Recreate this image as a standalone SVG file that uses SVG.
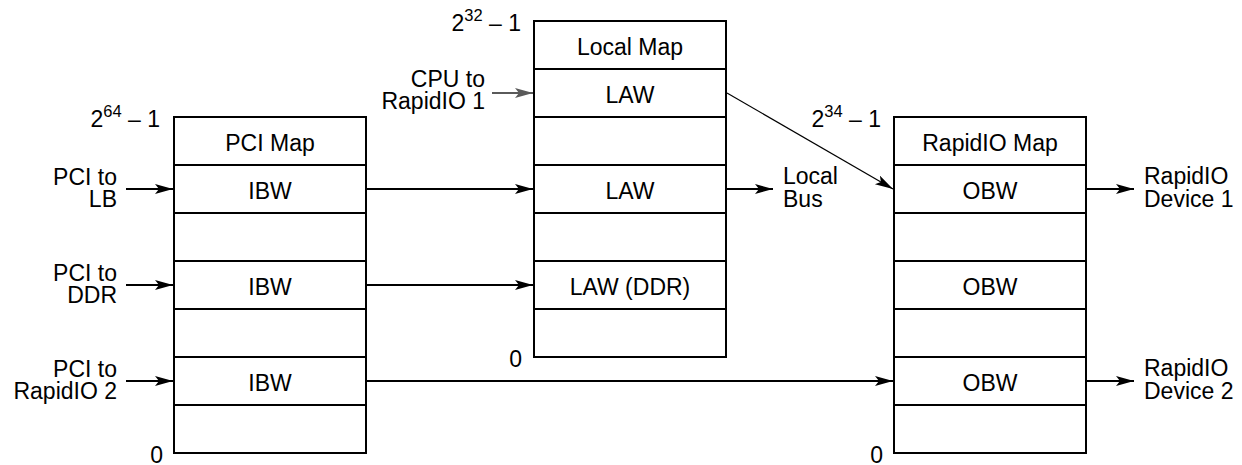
<svg xmlns="http://www.w3.org/2000/svg" width="1242" height="465" viewBox="0 0 1242 465">
<defs>
<style>
text{font-family:"Liberation Sans",Arial,Helvetica,sans-serif;font-size:23px;fill:#000}
.cell{text-anchor:middle}
.r{text-anchor:end}
.sup{font-size:16.5px}
.box rect,.box line{fill:none;stroke:#000;stroke-width:2}
.box rect.bg{fill:#fff}
.conn{fill:none;stroke:#000;stroke-width:2}
.thin{stroke-width:1.2}
.gray{stroke:#5a5a5a}
</style>
<marker id="ah" markerUnits="userSpaceOnUse" markerWidth="20" markerHeight="12" refX="18" refY="5" orient="auto" viewBox="0 0 20 12">
<path d="M0,0 L18,5 L0,10 L4,5 Z" fill="#000"/>
</marker>
<marker id="ahg" markerUnits="userSpaceOnUse" markerWidth="20" markerHeight="12" refX="18" refY="5" orient="auto" viewBox="0 0 20 12">
<path d="M0,0 L18,5 L0,10 L4,5 Z" fill="#5a5a5a"/>
</marker>
</defs>
<rect width="1242" height="465" fill="#fff"/>

<g id="pci-map" class="box">
<rect class="bg" x="174" y="117" width="192" height="336"/>
<line x1="174" y1="165" x2="366" y2="165"/>
<line x1="174" y1="213" x2="366" y2="213"/>
<line x1="174" y1="261" x2="366" y2="261"/>
<line x1="174" y1="309" x2="366" y2="309"/>
<line x1="174" y1="357" x2="366" y2="357"/>
<line x1="174" y1="405" x2="366" y2="405"/>
<text class="cell" x="270" y="151">PCI Map</text>
<text class="cell" x="270" y="199">IBW</text>
<text class="cell" x="270" y="295">IBW</text>
<text class="cell" x="270" y="391">IBW</text>
<text class="r" x="160" y="127">2<tspan class="sup" dy="-10">64</tspan><tspan dy="10"> – 1</tspan></text>
<text class="r" x="163" y="463">0</text>
</g>

<g id="local-map" class="box">
<rect class="bg" x="534" y="21" width="192" height="336"/>
<line x1="534" y1="69" x2="726" y2="69"/>
<line x1="534" y1="117" x2="726" y2="117"/>
<line x1="534" y1="165" x2="726" y2="165"/>
<line x1="534" y1="213" x2="726" y2="213"/>
<line x1="534" y1="261" x2="726" y2="261"/>
<line x1="534" y1="309" x2="726" y2="309"/>
<text class="cell" x="630" y="55">Local Map</text>
<text class="cell" x="630" y="103">LAW</text>
<text class="cell" x="630" y="199">LAW</text>
<text class="cell" x="630" y="295">LAW (DDR)</text>
<text class="r" x="521" y="31">2<tspan class="sup" dy="-10">32</tspan><tspan dy="10"> – 1</tspan></text>
<text class="r" x="522" y="367">0</text>
</g>

<g id="rapidio-map" class="box">
<rect class="bg" x="894" y="117" width="192" height="336"/>
<line x1="894" y1="165" x2="1086" y2="165"/>
<line x1="894" y1="213" x2="1086" y2="213"/>
<line x1="894" y1="261" x2="1086" y2="261"/>
<line x1="894" y1="309" x2="1086" y2="309"/>
<line x1="894" y1="357" x2="1086" y2="357"/>
<line x1="894" y1="405" x2="1086" y2="405"/>
<text class="cell" x="990" y="151">RapidIO Map</text>
<text class="cell" x="990" y="199">OBW</text>
<text class="cell" x="990" y="295">OBW</text>
<text class="cell" x="990" y="391">OBW</text>
<text class="r" x="881" y="127">2<tspan class="sup" dy="-10">34</tspan><tspan dy="10"> – 1</tspan></text>
<text class="r" x="883" y="463">0</text>
</g>

<g id="label-pci-lb"><text class="r" x="117" y="185">PCI to</text><text class="r" x="117" y="207">LB</text></g>
<g id="label-pci-ddr"><text class="r" x="117" y="281">PCI to</text><text class="r" x="117" y="303">DDR</text></g>
<g id="label-pci-rio2"><text class="r" x="117" y="377">PCI to</text><text class="r" x="117" y="399">RapidIO 2</text></g>
<g id="label-cpu-rio1"><text class="r" x="485" y="87">CPU to</text><text class="r" x="485" y="109">RapidIO 1</text></g>
<g id="label-local-bus"><text x="783" y="184">Local</text><text x="783" y="207">Bus</text></g>
<g id="label-rio-dev1"><text x="1144" y="184">RapidIO</text><text x="1144" y="207">Device 1</text></g>
<g id="label-rio-dev2"><text x="1144" y="376">RapidIO</text><text x="1144" y="399">Device 2</text></g>

<g id="connectors" class="conn">
<path d="M126,189 H173" marker-end="url(#ah)"/>
<path d="M126,285 H173" marker-end="url(#ah)"/>
<path d="M126,381 H173" marker-end="url(#ah)"/>
<path class="gray" d="M492,93 H533" marker-end="url(#ahg)"/>
<path d="M367,189 H533" marker-end="url(#ah)"/>
<path d="M367,285 H533" marker-end="url(#ah)"/>
<path d="M367,381 H893" marker-end="url(#ah)"/>
<path d="M727,189 H773" marker-end="url(#ah)"/>
<path class="thin" d="M727,93 L893,189" marker-end="url(#ah)"/>
<path d="M1087,189 H1134" marker-end="url(#ah)"/>
<path d="M1087,381 H1134" marker-end="url(#ah)"/>
</g>
</svg>
